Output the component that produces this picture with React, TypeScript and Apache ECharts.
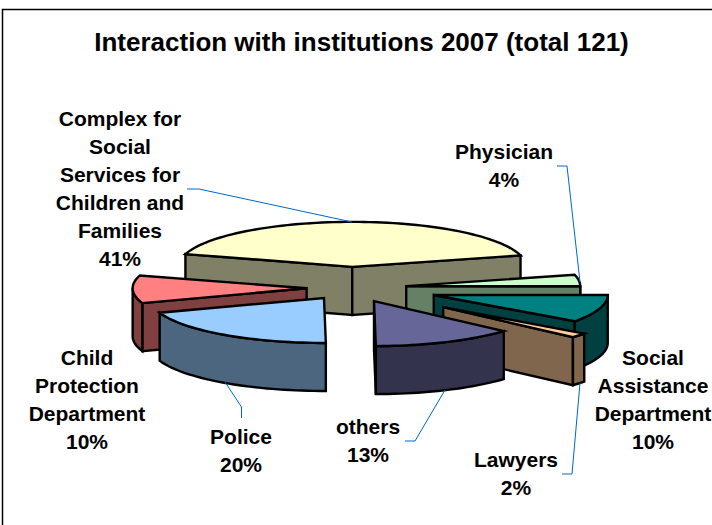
import React, { useEffect, useRef } from "react";
import * as echarts from "echarts";

const titleText = "Interaction with institutions 2007 (total 121)";
const categories = [
  "Complex for\nSocial\nServices for\nChildren and\nFamilies",
  "Physician",
  "Social\nAssistance\nDepartment",
  "Lawyers",
  "others",
  "Police",
  "Child\nProtection\nDepartment",
];
const counts = [50, 5, 12, 2, 16, 24, 12];
const explosion = [0.47, 0.32, 0.5, 0.68, 0.32, 0.27, 0.255];
const topColors = ["#FFFFCC", "#CCFFCC", "#008080", "#FFCC99", "#666699", "#99CCFF", "#FF8080"];
const wallColors = ["#808066", "#668066", "#004040", "#80664D", "#33334D", "#4D6680", "#804040"];
const drawOrder = [0, 1, 2, 3, 6, 5, 4];
const labelAnchors = [
  [120, 188], [504, 165], [653, 399], [516, 473], [368, 440], [241, 450], [87, 399],
];
const leaderLines = [
  [[187, 189], [199, 189], [352, 222]],
  [[557, 166], [567, 166], [580, 282]],
  [[562, 474], [572, 474], [580, 383]],
  [[405, 441], [415, 441], [445, 390]],
  [[241.5, 418], [241.5, 407], [225, 382]],
];

const CX = 351, CY = 288, RX = 174, RY = 45, DEPTH = 48, START = -73.5;
const total = counts.reduce((a, b) => a + b, 0);
const toRad = (d: number) => (d * Math.PI) / 180;

function renderSlice(_: any, api: any) {
  const i = api.value(1) as number;
  const before = counts.slice(0, i).reduce((a, b) => a + b, 0);
  const t0 = START + (before / total) * 360;
  const t1 = t0 + ((api.value(0) as number) / total) * 360;
  const mid = toRad((t0 + t1) / 2);
  const ax = CX + Math.sin(mid) * RX * explosion[i];
  const ay = CY - Math.cos(mid) * RY * explosion[i];
  const pt = (t: number, dz = 0) => [ax + RX * Math.sin(toRad(t)), ay - RY * Math.cos(toRad(t)) + dz];
  const arc = (a: number, b: number, dz = 0) => {
    const n = Math.max(2, Math.ceil(Math.abs(b - a) / 2));
    return Array.from({ length: n + 1 }, (_, k) => pt(a + ((b - a) * k) / n, dz));
  };
  const edge = { stroke: "#000", lineWidth: 2.4, lineJoin: "miter", miterLimit: 5 };
  const poly = (points: number[][], fill: string) => ({
    type: "polygon",
    shape: { points },
    style: { fill, ...edge },
  });
  const children: any[] = [];
  const wall = wallColors[i];
  const norm = (t: number) => ((t % 360) + 360) % 360;
  const radial = (t: number) =>
    poly([[ax, ay], pt(t), pt(t, DEPTH), [ax, ay + DEPTH]], wall);
  if (norm(t0) > 180) children.push(radial(t0));
  if (norm(t1) < 180) children.push(radial(t1));
  const from = Math.max(t0, 90), to = Math.min(t1, 270);
  if (to > from) {
    children.push(poly([...arc(from, to), ...arc(to, from, DEPTH)], wall));
  }
  children.push(poly([[ax, ay], ...arc(t0, t1)], topColors[i]));
  return { type: "group", children };
}

export default function App() {
  const ref = useRef<HTMLDivElement>(null);
  useEffect(() => {
    const chart = echarts.init(ref.current!, null, { renderer: "svg" });
    const font = { fontFamily: "Liberation Sans", fontWeight: "bold" };
    chart.setOption({
      animation: false,
      backgroundColor: "#fff",
      series: [
        {
          type: "custom",
          coordinateSystem: "none",
          silent: true,
          renderItem: renderSlice,
          data: drawOrder.map((i) => [counts[i], i]),
        },
      ],
      graphic: [
        {
          type: "polyline",
          z: 1,
          shape: { points: [[2.5, 525], [2.5, 9.5], [712, 9.5]] },
          style: { stroke: "#000", lineWidth: 1.5, fill: "none" },
        },
        {
          type: "text",
          z: 10,
          x: 361.5,
          y: 42,
          style: {
            text: titleText,
            textAlign: "center",
            textVerticalAlign: "middle",
            fontSize: 26,
            fill: "#000",
            ...font,
          },
        },
        ...leaderLines.map((points) => ({
          type: "polyline",
          z: 5,
          shape: { points },
          style: { stroke: "#0066CC", lineWidth: 1, fill: "none" },
        })),
        ...categories.map((name, i) => ({
          type: "text",
          z: 10,
          x: labelAnchors[i][0],
          y: labelAnchors[i][1],
          style: {
            text: `${name}\n${Math.round((counts[i] / total) * 100)}%`,
            textAlign: "center",
            textVerticalAlign: "middle",
            fontSize: 21,
            lineHeight: 28,
            fill: "#000",
            ...font,
          },
        })),
      ],
    });
    return () => chart.dispose();
  }, []);
  return (
    <div
      ref={ref}
      style={{ position: "absolute", left: 0, top: 0, width: 712, height: 525 }}
    />
  );
}
